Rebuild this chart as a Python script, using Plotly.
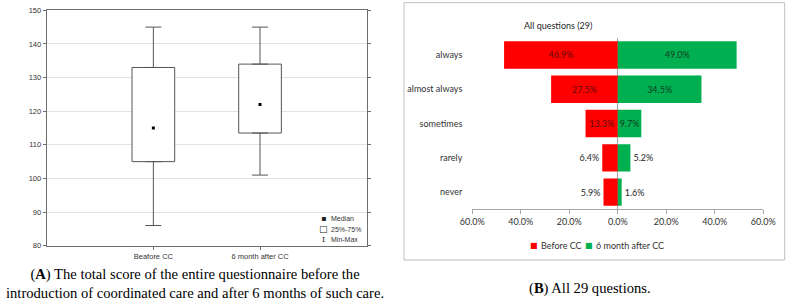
import plotly.graph_objects as go

# ---- Panel A data (box summary) ----
box_cats = ["Beafore CC", "6 month after CC"]
box_min = [86, 101]
box_q1 = [105, 113.5]
box_median = [115, 122]
box_q3 = [133, 134]
box_max = [145, 145]
a_yticks = [80, 90, 100, 110, 120, 130, 140, 150]

# ---- Panel B data ----
b_cats = ["always", "almost always", "sometimes", "rarely", "never"]
before_cc = [46.9, 27.5, 13.3, 6.4, 5.9]
after_cc = [49.0, 34.5, 9.7, 5.2, 1.6]
b_tickvals = [-60, -40, -20, 0, 20, 40, 60]
b_ticktext = ["60.0%", "40.0%", "20.0%", "0.0%", "20.0%", "40.0%", "60.0%"]
b_textpos = ["inside", "inside", "inside", "outside", "outside"]
b_series = ["Before CC", "6 month after CC"]
b_colors = ["#ff0000", "#00b050"]

W, H = 789, 307
def px(x): return x / W
def py(y): return 1 - y / H

fig = go.Figure()
AXC = "#6e6e6e"
FA = "Liberation Sans"
FB = "Lato"
FBS = 9

# Boxes (25%-75%)
fig.add_trace(go.Bar(
    x=box_cats, y=[q3 - q1 for q1, q3 in zip(box_q1, box_q3)], base=box_q1,
    width=0.4, marker=dict(color="white", line=dict(color="#555555", width=1)),
    xaxis="x", yaxis="y", showlegend=False, hoverinfo="skip"))
# Upper whiskers
fig.add_trace(go.Scatter(
    x=box_cats, y=box_q3, mode="markers", marker=dict(size=1, opacity=0),
    error_y=dict(type="data", symmetric=False,
                 array=[mx - q3 for mx, q3 in zip(box_max, box_q3)],
                 arrayminus=[0] * len(box_q3), width=8, thickness=1, color="#555555"),
    xaxis="x", yaxis="y", showlegend=False, hoverinfo="skip"))
# Lower whiskers
fig.add_trace(go.Scatter(
    x=box_cats, y=box_q1, mode="markers", marker=dict(size=1, opacity=0),
    error_y=dict(type="data", symmetric=False,
                 array=[0] * len(box_q1),
                 arrayminus=[q1 - mn for mn, q1 in zip(box_min, box_q1)],
                 width=8, thickness=1, color="#555555"),
    xaxis="x", yaxis="y", showlegend=False, hoverinfo="skip"))
# Medians
fig.add_trace(go.Scatter(
    x=box_cats, y=box_median, mode="markers",
    marker=dict(symbol="square", size=3, color="black", line=dict(width=0)),
    xaxis="x", yaxis="y", showlegend=False, hoverinfo="skip"))

# Panel B bars
red_txt = ["#5e0b0b"] * 3 + ["#262626"] * 2
green_txt = ["#0d3b1f"] * 3 + ["#262626"] * 2
for vals, sign, name, col, tcol in [(before_cc, -1, b_series[0], b_colors[0], red_txt),
                                     (after_cc, 1, b_series[1], b_colors[1], green_txt)]:
    fig.add_trace(go.Bar(
        y=b_cats, x=[sign * v for v in vals], orientation="h", name=name,
        marker=dict(color=col, line=dict(width=0)),
        text=[f"{v:.1f}%" for v in vals], textposition=b_textpos, textangle=0,
        insidetextanchor="middle", constraintext="none", cliponaxis=False,
        textfont=dict(family=FB, size=FBS, color=tcol),
        xaxis="x2", yaxis="y2", hoverinfo="skip", showlegend=False))

fig.update_layout(
    width=W, height=H, margin=dict(l=0, r=0, t=0, b=0, pad=0, autoexpand=False),
    paper_bgcolor="white", plot_bgcolor="white", showlegend=False,
    barmode="relative", bargap=0.2,
    uniformtext=dict(minsize=FBS, mode="show"),
    xaxis=dict(domain=[px(46.7), px(366.7)], range=[-1, 2], type="category",
               automargin=False,
               showline=True, mirror=True, linecolor=AXC, linewidth=1,
               ticks="outside", ticklen=3, tickcolor=AXC, showgrid=False,
               tickfont=dict(family=FA, size=7.5, color="#333333"), fixedrange=True),
    yaxis=dict(domain=[py(245.7), py(10.3)], range=[80, 150], tickvals=a_yticks,
               automargin=False,
               showline=True, mirror="allticks", linecolor=AXC, linewidth=1,
               ticks="outside", ticklen=3, tickcolor=AXC,
               showgrid=True, gridcolor="#e3e3e3", gridwidth=1, zeroline=False,
               tickfont=dict(family=FA, size=7.5, color="#333333")),
    xaxis2=dict(domain=[px(472.3), px(763.3)], range=[-60, 60], anchor="y2",
                automargin=False,
                tickvals=b_tickvals, ticktext=b_ticktext,
                showline=True, linecolor="#a6a6a6", linewidth=1,
                ticks="outside", ticklen=4, tickcolor="#a6a6a6",
                showgrid=False, zeroline=True, zerolinecolor="#a6a6a6", zerolinewidth=1,
                tickfont=dict(family=FB, size=FBS, color="#333333")),
    yaxis2=dict(domain=[py(209.3), py(37.8)], anchor="x2", type="category",
                automargin=False,
                autorange="reversed", showline=False, ticks="", showgrid=False,
                ticklabelstandoff=9,
                tickfont=dict(family=FB, size=FBS, color="#333333")),
    shapes=[dict(type="rect", xref="paper", yref="paper",
                 x0=px(404), x1=px(784.7), y0=py(260), y1=py(2.7),
                 line=dict(color="#bfbfbf", width=1))],
)

ann = []
# Panel B title
ann.append(dict(text="All questions (29)", x=px(594), y=py(17.7), xref="paper", yref="paper",
                showarrow=False, font=dict(family=FB, size=FBS, color="#262626")))
# Panel B legend (manual)
leg_x = [(534, 538.5), (589, 594)]
for (sx, tx), name, col in zip(leg_x, b_series, b_colors):
    ann.append(dict(text="■", x=px(sx), y=py(245.7), xref="paper", yref="paper",
                    xanchor="center", yanchor="middle", showarrow=False,
                    font=dict(family="DejaVu Sans", size=8, color=col)))
    ann.append(dict(text=name, x=px(tx), y=py(245.7), xref="paper", yref="paper",
                    xanchor="left", yanchor="middle", showarrow=False,
                    font=dict(family=FB, size=FBS, color="#333333")))
# Panel A legend
leg_items = [("▪", "Median", 218), ("□", "25%-75%", 229), ("I", "Min-Max", 239.5)]
for sym, lab, yy in leg_items:
    ann.append(dict(text=sym, x=px(323), y=py(yy), xref="paper", yref="paper",
                    xanchor="center", yanchor="middle", showarrow=False,
                    font=dict(family="DejaVu Serif" if sym == "I" else "DejaVu Sans",
                              size=8 if sym != "□" else 9, color="#222222")))
    ann.append(dict(text=lab, x=px(328.5), y=py(yy), xref="paper", yref="paper",
                    xanchor="left", yanchor="middle", showarrow=False,
                    font=dict(family=FA, size=7, color="#333333")))
# Captions
ann.append(dict(text="(<b>A</b>) The total score of the entire questionnaire before the<br>"
                     "introduction of coordinated care and after 6 months of such care.",
                x=px(195), y=py(283), xref="paper", yref="paper", xanchor="center",
                yanchor="middle", showarrow=False, align="center",
                font=dict(family="Liberation Serif", size=14.6, color="black")))
ann.append(dict(text="(<b>B</b>) All 29 questions.", x=px(590), y=py(288),
                xref="paper", yref="paper", xanchor="center", yanchor="middle",
                showarrow=False, font=dict(family="Liberation Serif", size=14.6, color="black")))
fig.update_layout(annotations=ann)

fig.write_html("out.html", config={"displayModeBar": False},
               post_script="document.body.style.margin='0';document.body.style.overflow='hidden';")
